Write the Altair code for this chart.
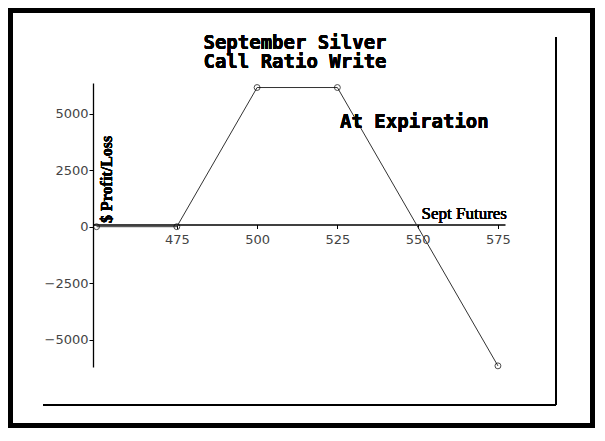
import altair as alt
import pandas as pd

# data
futures = [450, 475, 500, 525, 575]
profit = [0, 0, 6150, 6150, -6150]
x_ticks = [475, 500, 525, 550, 575]
y_ticks = [-5000, -2500, 0, 2500, 5000]
title_lines = ["September Silver", "Call Ratio Write"]
note_text = "At Expiration"
x_title = "Sept Futures"
y_title = "$ Profit/Loss"

df = pd.DataFrame({"futures": futures, "profit": profit})

W, H = 412, 284
x_dom = [448.9, 577.2]
y_dom = [-6200, 6350]

xs = alt.Scale(domain=x_dom, nice=False, zero=False)
ys = alt.Scale(domain=y_dom, nice=False, zero=False)

base = alt.Chart(df)

line = base.mark_line(color="#333333", strokeWidth=1).encode(
    x=alt.X("futures:Q", scale=xs,
            axis=alt.Axis(values=x_ticks, title=None, grid=False, orient="bottom",
                          offset=-142.5, domainColor="black", domainWidth=1.3,
                          tickColor="black", tickSize=4, labelPadding=5,
                          labelFont="DejaVu Sans", labelFontSize=13, labelColor="#444444",
                          format="d")),
    y=alt.Y("profit:Q", scale=ys,
            axis=alt.Axis(values=y_ticks, title=None, grid=False, orient="left",
                          domainColor="black", domainWidth=1.3, tickColor="black",
                          tickSize=4, labelPadding=1, labelFont="DejaVu Sans",
                          labelFontSize=13, labelColor="#444444", format="d")),
)

pts = base.mark_point(shape="circle", filled=False, color="black", size=35,
                      strokeWidth=1).encode(
    x=alt.X("futures:Q", scale=xs), y=alt.Y("profit:Q", scale=ys))

title = alt.Chart(df).mark_text(text=title_lines, font="DejaVu Sans Mono", fontWeight="bold",
                                fontSize=19, lineHeight=19, align="center",
                                baseline="alphabetic", color="black").encode(
    x=alt.value(202), y=alt.value(-34))

note = alt.Chart(df).mark_text(text=note_text, font="DejaVu Sans Mono", fontWeight="bold",
                               fontSize=19, align="left", baseline="alphabetic",
                               color="black").encode(x=alt.value(247), y=alt.value(45))

xt = alt.Chart(df).mark_text(text=x_title, font="Liberation Serif", fontSize=17,
                             align="right", baseline="alphabetic", color="black").encode(
    x=alt.value(414), y=alt.value(135.5))

yt = alt.Chart(df).mark_text(text=y_title, font="Liberation Serif", fontWeight="bold",
                             fontSize=16, angle=270, align="left", baseline="middle",
                             color="black").encode(x=alt.value(13.7), y=alt.value(140))

outer = alt.Chart(df).mark_rect(filled=False, stroke="black", strokeWidth=5).encode(
    x=alt.value(-82.5), x2=alt.value(499.5), y=alt.value(-72.5), y2=alt.value(342.5))

inner_h = alt.Chart(df).mark_rule(color="black", strokeWidth=1.5).encode(
    x=alt.value(-50), x2=alt.value(463), y=alt.value(322))
inner_v = alt.Chart(df).mark_rule(color="black", strokeWidth=1.5).encode(
    x=alt.value(463), y=alt.value(-46), y2=alt.value(322))

chart = alt.layer(outer, inner_h, inner_v, line, pts, title, note, xt, yt).properties(
    width=W, height=H,
    autosize=alt.AutoSizeParams(type="none"),
    padding={"left": 85, "top": 75, "right": 90, "bottom": 61},
    background="white",
).configure_view(stroke=None)

chart.save("out.html", embed_options={"renderer": "svg", "actions": False})
